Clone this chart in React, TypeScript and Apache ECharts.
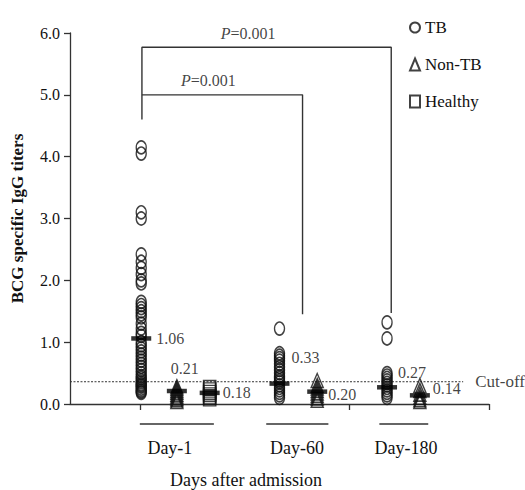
import React, { useEffect, useRef } from "react";
import * as echarts from "echarts";

// ---- data ----
const groupNames = ["TB", "Non-TB", "Healthy"];
const dayLabels = ["Day-1", "Day-60", "Day-180"];
// column x positions (axis units)
const tbCols = [1.02, 3.0, 4.54];
const nonTbCols = [1.53, 3.54, 5.01];
const healthyCols = [2.0];

const tbDay1 = [4.15, 4.05, 3.1, 3.0, 2.42, 2.3, 2.2, 2.1, 2.0, 1.95, 1.65, 1.6, 1.55, 1.5, 1.45, 1.4, 1.3, 1.22, 1.15, 1.1, 1.0, 0.95, 0.9, 0.85, 0.8, 0.75, 0.7, 0.65, 0.6, 0.55, 0.5, 0.45, 0.42, 0.38, 0.35, 0.32, 0.3, 0.28, 0.25, 0.22, 0.2, 0.18];
const tbDay60 = [1.22, 0.82, 0.78, 0.74, 0.7, 0.65, 0.6, 0.55, 0.5, 0.45, 0.42, 0.38, 0.35, 0.3, 0.26, 0.22, 0.18, 0.14, 0.1];
const tbDay180 = [1.32, 1.06, 0.5, 0.46, 0.42, 0.38, 0.34, 0.3, 0.26, 0.22, 0.18, 0.14, 0.1];
const nonTbDay1 = [0.28, 0.25, 0.22, 0.19, 0.16, 0.13, 0.1, 0.07, 0.04];
const nonTbDay60 = [0.38, 0.3, 0.26, 0.22, 0.18, 0.14, 0.1, 0.06];
const nonTbDay180 = [0.3, 0.22, 0.16, 0.11, 0.07, 0.04];
const healthyDay1 = [0.3, 0.26, 0.22, 0.18, 0.15, 0.12, 0.08, 0.05];

const tbMeans = [1.06, 0.33, 0.27];
const nonTbMeans = [0.21, 0.2, 0.14];
const healthyMeans = [0.18];

const cutOff = 0.36;
const cutOffEnd = 5.63;
const bracketOuter = [[1.03, 4.6], [1.03, 5.77], [4.6, 5.77], [4.6, 1.47]];
const bracketInner = [[1.03, 5.0], [3.33, 5.0], [3.33, 1.45]];
const pLabels = [[2.55, 5.77], [1.98, 5.0]];
const dayRanges = [[1.0, 2.06], [2.81, 3.7], [4.43, 5.13]];
const dayCenters = [1.43, 3.25, 4.81];

const yTicks = [0, 1, 2, 3, 4, 5, 6];

const FONT = "'Liberation Serif', 'Times New Roman', serif";
const INK = "#111";

function App() {
  const ref = useRef<HTMLDivElement>(null);
  useEffect(() => {
    document.body.style.margin = "0";
    const chart = echarts.init(ref.current!, undefined, { renderer: "svg" });
    const pts = (cols: number[], arrs: number[][]) =>
      arrs.flatMap((a, i) => a.map((v) => [cols[i], v]));

    const meanLabelCfg = [
      { position: "right", distance: 5, offset: [0, 0] },
      { position: "right", distance: 5, offset: [-3, -26] },
      { position: "right", distance: 5, offset: [-4, -15] },
    ];
    const nonLabelCfg = [
      { position: "top", distance: 5, offset: [8, -7] },
      { position: "right", distance: 5, offset: [-4, 3] },
      { position: "right", distance: 5, offset: [-2, -7] },
    ];
    const healthyLabelCfg = [{ position: "right", distance: 3, offset: [0, 0] }];

    const meanData = (cols: number[], means: number[], cfg: any[]) =>
      means.map((m, i) => ({
        value: [cols[i], m],
        label: { show: true, ...cfg[i] },
      }));

    const markStyle = { color: "transparent", borderColor: INK, borderWidth: 1.5 };
    const textStyle = { fontFamily: FONT, color: INK };

    chart.setOption({
      animation: false,
      grid: { left: 70, right: 36, top: 33, bottom: 86 },
      legend: {
        orient: "vertical",
        left: 404,
        top: 14,
        itemGap: 20,
        itemWidth: 10,
        itemHeight: 12,
        data: groupNames,
        textStyle: { ...textStyle, fontSize: 17 },
      },
      xAxis: {
        type: "value",
        min: 0,
        max: 6,
        axisLine: { lineStyle: { color: "#333", width: 1.3 } },
        axisTick: { show: true, customValues: [1, 4, 6], length: 6, lineStyle: { color: "#333", width: 1.3 } },
        axisLabel: { show: false },
        splitLine: { show: false },
      },
      yAxis: {
        type: "value",
        min: 0,
        max: 6,
        interval: 1,
        name: "BCG specific IgG titers",
        nameLocation: "middle",
        nameGap: 44,
        nameTextStyle: { ...textStyle, fontSize: 17, fontWeight: "bold" },
        axisLine: { show: true, lineStyle: { color: "#333", width: 1.3 } },
        axisTick: { show: true, length: 6, lineStyle: { color: "#333", width: 1.3 } },
        axisLabel: {
          ...textStyle,
          fontSize: 16,
          margin: 10,
          customValues: yTicks,
          formatter: (v: number) => v.toFixed(1),
        },
        splitLine: { show: false },
      },
      series: [
        {
          name: "TB",
          type: "scatter",
          symbol: "circle",
          symbolSize: [10, 13],
          itemStyle: markStyle,
          data: pts(tbCols, [tbDay1, tbDay60, tbDay180]),
          z: 3,
        },
        {
          name: "Non-TB",
          type: "scatter",
          symbol: "triangle",
          symbolSize: [12, 14],
          itemStyle: markStyle,
          data: pts(nonTbCols, [nonTbDay1, nonTbDay60, nonTbDay180]),
          z: 3,
        },
        {
          name: "Healthy",
          type: "scatter",
          symbol: "rect",
          symbolSize: [12, 10],
          itemStyle: markStyle,
          data: pts(healthyCols, [healthyDay1]),
          z: 3,
        },
        {
          name: "means",
          type: "scatter",
          symbol: "rect",
          symbolSize: [20, 4.5],
          itemStyle: { color: "#000" },
          label: { ...textStyle, fontSize: 16, formatter: (p: any) => p.value[1].toFixed(2) },
          data: [
            ...meanData(tbCols, tbMeans, meanLabelCfg),
            ...meanData(nonTbCols, nonTbMeans, nonLabelCfg),
            ...meanData(healthyCols, healthyMeans, healthyLabelCfg),
          ],
          z: 5,
        },
        {
          name: "cutoff",
          type: "line",
          symbol: "none",
          lineStyle: { color: "#333", width: 1, type: [2, 1.5] },
          data: [
            [0, cutOff],
            [cutOffEnd, cutOff],
          ],
          z: 2,
        },
        {
          name: "cutoffLabel",
          type: "scatter",
          symbolSize: 0.1,
          itemStyle: { color: "transparent" },
          label: { show: true, position: "right", distance: 12, formatter: "Cut-off", ...textStyle, fontSize: 17 },
          data: [[cutOffEnd, cutOff]],
          z: 4,
        },
        {
          name: "bracket1",
          type: "line",
          symbol: "none",
          lineStyle: { color: "#333", width: 1.4 },
          data: bracketOuter,
          z: 2,
        },
        {
          name: "bracket2",
          type: "line",
          symbol: "none",
          lineStyle: { color: "#333", width: 1.4 },
          data: bracketInner,
          z: 2,
        },
        {
          name: "pvals",
          type: "scatter",
          symbolSize: 0.1,
          itemStyle: { color: "transparent" },
          label: {
            show: true,
            position: "top",
            distance: 6,
            formatter: "{i|P}=0.001",
            ...textStyle,
            fontSize: 16,
            rich: { i: { fontStyle: "italic", fontFamily: FONT, fontSize: 16, color: INK } },
          },
          data: pLabels,
          z: 4,
        },
      ],
    });

    const graphic: any[] = [];
    dayRanges.forEach((r, i) => {
      const a = chart.convertToPixel({ gridIndex: 0 }, [r[0], 0]) as number[];
      const b = chart.convertToPixel({ gridIndex: 0 }, [r[1], 0]) as number[];
      graphic.push({
        type: "line",
        shape: { x1: a[0], y1: a[1] + 20, x2: b[0], y2: b[1] + 20 },
        style: { stroke: "#333", lineWidth: 1.4 },
      });
      const c = chart.convertToPixel({ gridIndex: 0 }, [dayCenters[i], 0]) as number[];
      graphic.push({
        type: "text",
        x: c[0],
        y: c[1] + 44,
        style: { text: dayLabels[i], fontFamily: FONT, fontSize: 18, fill: INK, align: "center", verticalAlign: "middle" },
      });
    });
    const mid = chart.convertToPixel({ gridIndex: 0 }, [2.52, 0]) as number[];
    graphic.push({
      type: "text",
      x: mid[0],
      y: mid[1] + 76,
      style: { text: "Days after admission", fontFamily: FONT, fontSize: 18, fill: INK, align: "center", verticalAlign: "middle" },
    });
    chart.setOption({ graphic });

    return () => chart.dispose();
  }, []);
  return <div ref={ref} style={{ width: 525, height: 490 }} />;
}

export default App;
